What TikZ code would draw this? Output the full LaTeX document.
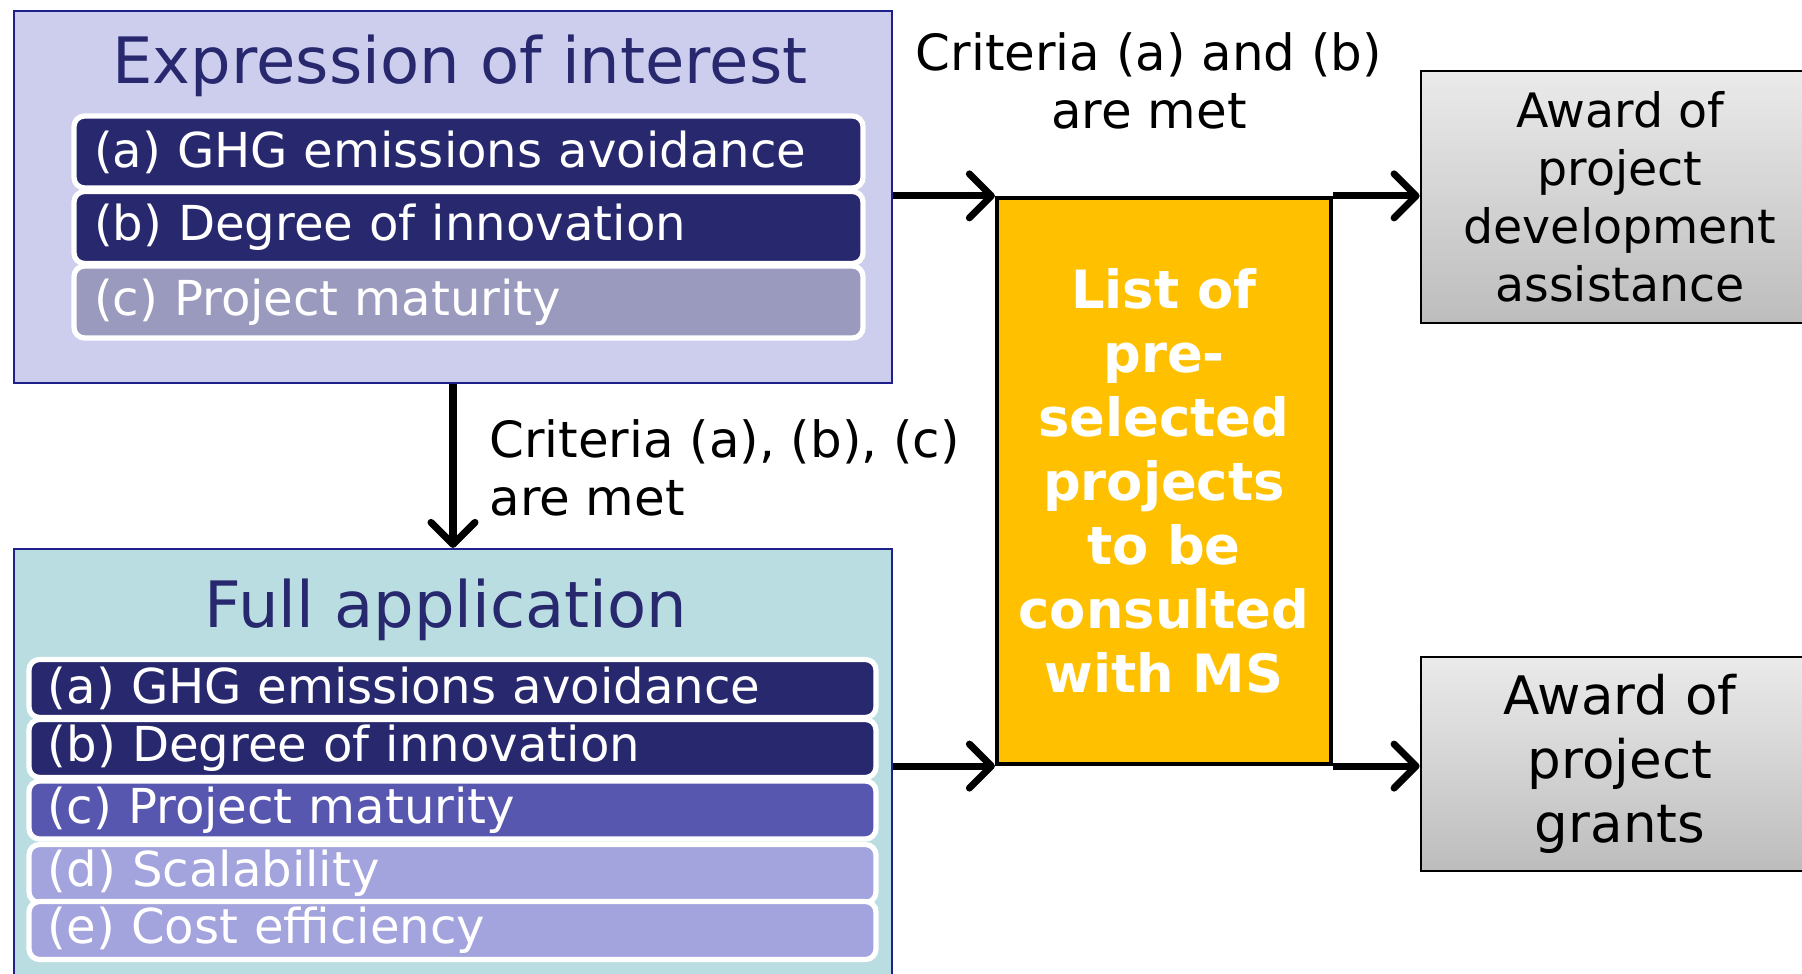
\documentclass[tikz,border=0pt]{standalone}
\usepackage{fontspec}
\setmainfont{DejaVu Sans}
\usepackage{tikz}
\usetikzlibrary{arrows.meta,positioning}

\definecolor{navy}{HTML}{28286E}
\definecolor{eoifill}{HTML}{CDCDEE}
\definecolor{fafill}{HTML}{B9DDE1}
\definecolor{critdark}{HTML}{28286E}
\definecolor{critgrey}{HTML}{9A9ABF}
\definecolor{critmid}{HTML}{5757B0}
\definecolor{critlight}{HTML}{A3A3DD}
\definecolor{listyellow}{HTML}{FFC000}

\tikzset{
  stage/.style={draw=navy!80!blue, line width=0.6pt, inner sep=0pt},
  stagetitle/.style={text=navy, font=\fontsize{18.2}{22}\selectfont},
  crit/.style={draw=white, line width=1.5pt, rounded corners=3pt, text=white,
    align=left, inner ysep=0pt, font=\fontsize{13.7}{16}\selectfont},
  eoicrit/.style={crit, minimum width=7.89cm, text width=7.49cm, inner xsep=0.2cm, minimum height=0.72cm},
  facrit/.style={crit, minimum width=8.47cm, text width=8.09cm, inner xsep=0.19cm, minimum height=0.58cm},
  award/.style={draw, line width=0.8pt, top color=black!8, bottom color=black!26,
    align=center, minimum width=3.98cm},
  flow/.style={line width=2pt, -{Straight Barb[round,length=2.2mm,width=4.4mm,line width=2pt]}},
  criteria/.style={font=\fontsize{14.2}{16.3}\selectfont}
}

\begin{document}
\begin{tikzpicture}[x=1cm,y=-1cm]
\useasboundingbox (0,0) rectangle (18.02,9.74);
%the two stages
\node[stage, fill=eoifill, minimum width=8.78cm, minimum height=3.72cm] (eoi) at (4.53,1.97) {};
\node[stage, fill=fafill, minimum width=8.78cm, minimum height=4.6cm] (fa) at (4.53,7.79) {};
\node[stagetitle] (eoititle) at (4.60,0.66) {Expression of interest};
\node[stagetitle] (fatitle) at (4.46,6.10) {Full application};
%criteria in expression of interest
\node[eoicrit, fill=critdark] (eoia) at (4.685,1.52) {(a) GHG emissions avoidance};
\node[eoicrit, fill=critdark] (eoib) at (4.685,2.275) {(b) Degree of innovation};
\node[eoicrit, fill=critgrey] (eoic) at (4.685,3.02) {(c) Project maturity};
%criteria in full application
\node[facrit, fill=critdark] (faa) at (4.525,6.885) {(a) GHG emissions avoidance};
\node[facrit, fill=critdark] (fab) at (4.525,7.485) {(b) Degree of innovation};
\node[facrit, fill=critmid] (fac) at (4.525,8.10) {(c) Project maturity};
\node[facrit, fill=critlight] (fad) at (4.525,8.735) {(d) Scalability};
\node[facrit, fill=critlight] (fae) at (4.525,9.305) {(e) Cost efficiency};
%list and awards
\node[draw, line width=1.2pt, fill=listyellow, minimum width=3.34cm, minimum height=5.66cm,
  text=white, align=center, font=\fontsize{15}{18.2}\selectfont\bfseries] (list) at (11.64,4.81)
  {List of\\pre-\\selected\\projects\\to be\\consulted\\with MS};
\node[award, minimum height=2.52cm, font=\fontsize{13.5}{16.5}\selectfont] (pda) at (16.2,1.97)
  {Award of\\project\\development\\assistance};
\node[award, minimum height=2.14cm, font=\fontsize{15.1}{18.3}\selectfont] (grants) at (16.2,7.64)
  {Award of\\project\\grants};
%labels
\node[criteria, align=center] (critab) at (11.49,0.81) {Criteria (a) and (b)\\are met};
\node[criteria, align=left, anchor=west] (critabc) at (4.77,4.68) {Criteria (a), (b), (c)\\are met};
%arrows
\draw[flow] (eoi.south) -- (fa.north);
\draw[flow] (eoi.east |- list.north west) -- (list.north west);
\draw[flow] (fa.east |- list.south west) -- (list.south west);
\draw[flow] (list.north east) -- (pda.west |- list.north east);
\draw[flow] (list.south east) -- (grants.west |- list.south east);
\end{tikzpicture}
\end{document}
